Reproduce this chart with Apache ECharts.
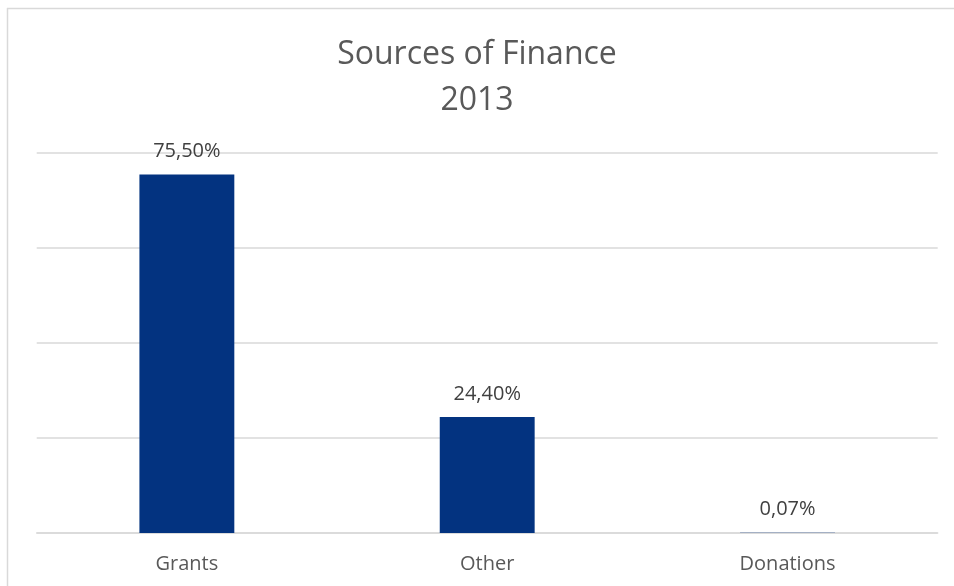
<!DOCTYPE html>
<html>
<head>
<meta charset="utf-8">
<script src="https://cdn.jsdelivr.net/npm/echarts@6/dist/echarts.min.js"></script>
<style>
html,body{margin:0;padding:0;background:#fff;}
#chart{width:954px;height:586px;}
</style>
</head>
<body>
<div id="chart"></div>
<script>
const categories = ['Grants', 'Other', 'Donations'];
const shares = [75.50, 24.40, 0.07];
const titleText = 'Sources of Finance\n2013';

const chart = echarts.init(document.getElementById('chart'));
chart.setOption({
  animation: false,
  backgroundColor: '#ffffff',
  graphic: [
    { type: 'line', silent: true, shape: { x1: 7, y1: 8.5, x2: 954, y2: 8.5 }, style: { stroke: '#d9d9d9', lineWidth: 1.5 } },
    { type: 'line', silent: true, shape: { x1: 7.5, y1: 8, x2: 7.5, y2: 586 }, style: { stroke: '#d9d9d9', lineWidth: 1.5 } }
  ],
  title: {
    text: titleText,
    left: 'center',
    top: 27,
    textStyle: {
      fontFamily: 'Open Sans',
      fontSize: 32,
      fontWeight: 'normal',
      color: '#595959',
      lineHeight: 46
    }
  },
  grid: { left: 36.7, right: 16.3, top: 153, bottom: 53 },
  xAxis: {
    type: 'category',
    data: categories,
    axisLine: { show: true, lineStyle: { color: '#d9d9d9', width: 1.5 } },
    axisTick: { show: false },
    axisLabel: { color: '#595959', fontFamily: 'Open Sans', fontSize: 20, margin: 21 }
  },
  yAxis: {
    type: 'value',
    min: 0, max: 80, interval: 20,
    axisLabel: { show: false },
    axisLine: { show: false },
    axisTick: { show: false },
    splitLine: { lineStyle: { color: '#d9d9d9', width: 1.5 } }
  },
  series: [{
    type: 'bar',
    data: shares,
    barWidth: '31.6%',
    itemStyle: { color: '#033380' },
    label: {
      show: true,
      position: 'top',
      distance: 13,
      color: '#404040',
      fontFamily: 'Open Sans',
      fontSize: 20,
      formatter: p => p.value.toFixed(2).replace('.', ',') + '%'
    }
  }]
});
</script>
</body>
</html>
